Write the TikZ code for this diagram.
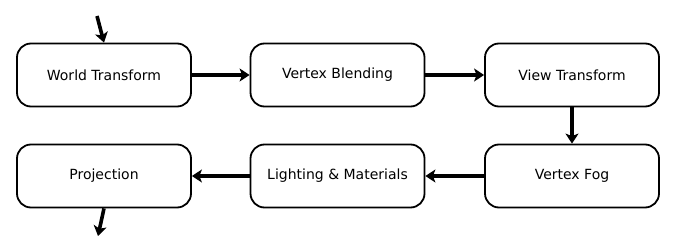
\documentclass[tikz,border=0pt]{standalone}
\usepackage{fontspec}
\setmainfont{DejaVu Sans}
\usetikzlibrary{arrows.meta}
\begin{document}
\begin{tikzpicture}[x=1pt,y=-1pt,
  stage/.style={draw=black,line width=1.8pt,rounded corners=14pt,fill=white,
    minimum width=174pt,minimum height=63pt,inner sep=0pt,font=\fontsize{14}{17}\selectfont},
  flow/.style={line width=3.6pt,-{Stealth[length=10pt,width=13pt,inset=2.5pt]}}]
\useasboundingbox (0,0) rectangle (676,251);
\node[stage] (world) at (104,75) {World Transform};
\node[stage] (blend) at (337.5,75) {Vertex Blending};
\node[stage] (view)  at (572,75) {View Transform};
\node[stage] (fog)   at (572,176) {Vertex Fog};
\node[stage] (light) at (337.5,176) {Lighting \& Materials};
\node[stage] (proj)  at (104,176) {Projection};
\coordinate (in)  at (97,16);
\coordinate (out) at (98,236);
\draw[flow] (in) -- (world.north);
\draw[flow] (world) -- (blend);
\draw[flow] (blend) -- (view);
\draw[flow] (view) -- (fog);
\draw[flow] (fog) -- (light);
\draw[flow] (light) -- (proj);
\draw[flow] (proj.south) -- (out);
\end{tikzpicture}
\end{document}
